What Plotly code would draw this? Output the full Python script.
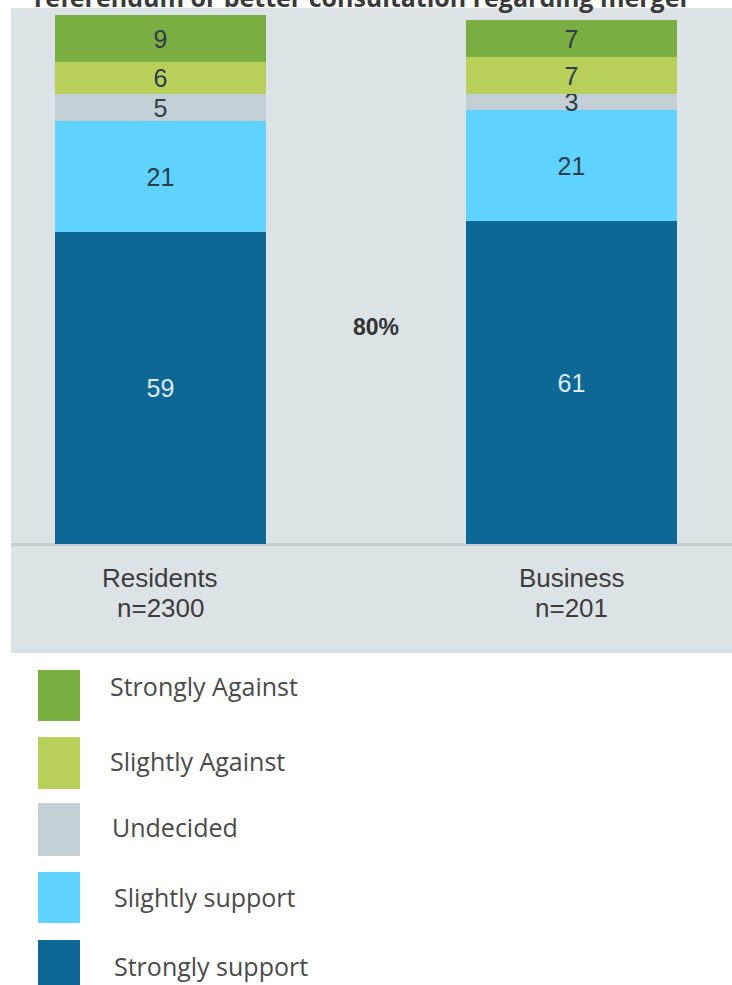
import plotly.graph_objects as go

# Survey responses (% of respondents) by group
groups = ["Residents", "Business"]
sample_sizes = ["n=2300", "n=201"]
segments = ["Strongly support", "Slightly support", "Undecided", "Slightly Against", "Strongly Against"]
values = {
    "Strongly support": [59, 61],
    "Slightly support": [21, 21],
    "Undecided": [5, 3],
    "Slightly Against": [6, 7],
    "Strongly Against": [9, 7],
}
support_total_label = "80%"
title_text = "referendum or better consultation regarding merger"

colors = {
    "Strongly support": "#0d6896",
    "Slightly support": "#5fd3fd",
    "Undecided": "#c3cfd5",
    "Slightly Against": "#b8d05a",
    "Strongly Against": "#7aae42",
}
label_colors = {
    "Strongly support": "#dfe9ef",
    "Slightly support": "#2c3e4c",
    "Undecided": "#2c3e4c",
    "Slightly Against": "#2c3e4c",
    "Strongly Against": "#2c3e4c",
}

W, H = 732, 985
panel_left, panel_top, panel_bottom = 11, 8, 653
baseline_px = 544
px_per_unit = 5.293

fig = go.Figure()
for seg in segments:
    fig.add_trace(go.Bar(
        x=groups,
        y=values[seg],
        name=seg,
        marker=dict(color=colors[seg], line=dict(width=0)),
        width=0.513,
        text=values[seg],
        texttemplate="%{text}",
        textposition="inside",
        insidetextanchor="middle",
        constraintext="none",
        textangle=0,
        textfont=dict(family="Liberation Sans, Arial, sans-serif", size=25, color=label_colors[seg]),
        cliponaxis=False,
        showlegend=False,
        hoverinfo="skip",
    ))

y_top = (baseline_px - panel_top) / px_per_unit
y_bot = (baseline_px - panel_bottom) / px_per_unit

fig.update_layout(
    width=W, height=H,
    margin=dict(l=0, r=0, t=0, b=0),
    paper_bgcolor="white",
    plot_bgcolor="#dce3e6",
    barmode="stack",
    bargap=0,
    xaxis=dict(
        domain=[panel_left / W, 1],
        range=[-0.3637, 1.3905],
        showticklabels=False, showgrid=False, zeroline=False, ticks="",
    ),
    yaxis=dict(
        domain=[(H - panel_bottom) / H, (H - panel_top) / H],
        range=[y_bot, y_top],
        showticklabels=False, showgrid=False,
        zeroline=True, zerolinecolor="#c6cdd1", zerolinewidth=3, ticks="",
    ),
)

annotations = []
# Group labels beneath the baseline, one line each
cat_font = dict(family="Liberation Sans, Arial, sans-serif", size=26, color="#3c3c3c")
for g, n in zip(groups, sample_sizes):
    for txt, py in ((g, 578), (n, 608)):
        annotations.append(dict(
            x=g, y=(baseline_px - py) / px_per_unit, xref="x", yref="y",
            text=txt, showarrow=False, font=cat_font,
            yanchor="middle", xanchor="center",
        ))

# Combined support figure between the bars
annotations.append(dict(
    x=0.524, y=41.0, xref="x", yref="y",
    text=f"<b>{support_total_label}</b>", showarrow=False,
    font=dict(family="Liberation Sans, Arial, sans-serif", size=23, color="#333333"),
))

# Title (upper line runs off the top of the page)
annotations.append(dict(
    x=362 / W, y=1.003, xref="paper", yref="paper",
    text=f"<b>{title_text}</b>", showarrow=False,
    font=dict(family="Open Sans, sans-serif", size=25, color="#3a3a3a"),
    yanchor="middle", xanchor="center",
))

# Legend: large swatches with labels
legend_order = ["Strongly Against", "Slightly Against", "Undecided", "Slightly support", "Strongly support"]
swatch_top = [670, 737, 803, 872, 940]
swatch_h = [51, 52, 53, 51, 48]
label_x = [108, 108, 110, 112, 112]
label_y = [686, 761, 827, 897, 966]
shapes = []
for seg, t, h, lx, ly in zip(legend_order, swatch_top, swatch_h, label_x, label_y):
    shapes.append(dict(
        type="rect", xref="paper", yref="paper",
        x0=38 / W, x1=80 / W, y0=1 - (t + h) / H, y1=1 - t / H,
        fillcolor=colors[seg], line=dict(width=0),
    ))
    annotations.append(dict(
        x=lx / W, y=1 - ly / H, xref="paper", yref="paper",
        text=seg, showarrow=False, xanchor="left", yanchor="middle",
        font=dict(family="Open Sans, sans-serif", size=25, color="#4a4a4a"),
    ))

fig.update_layout(annotations=annotations, shapes=shapes)
fig.write_html("out.html")
